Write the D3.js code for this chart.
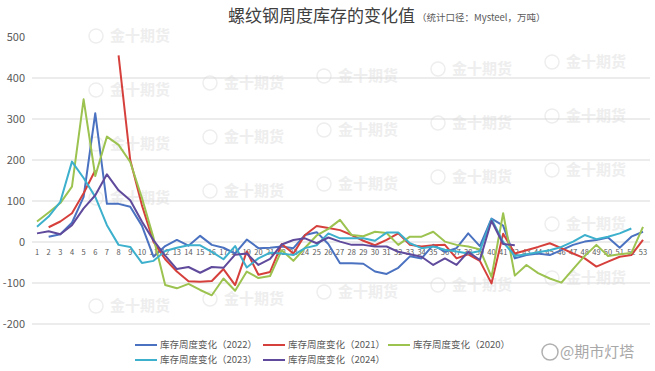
<!DOCTYPE html>
<html>
<head>
<meta charset="utf-8">
<script src="https://cdn.jsdelivr.net/npm/d3@7"></script>
<style>
  body { margin: 0; background: #fff; }
  text { font-family: "Noto Sans CJK SC", "Noto Sans", sans-serif; }
</style>
</head>
<body>
<script>
// weeks 1..53
var weeks = d3.range(1, 54);
var yTicks = [500, 400, 300, 200, 100, 0, -100, -200];

// 库存周度变化, 万吨 (null = no data)
var s2022 = [null, 13, 19, 47, 110, 314, 93, 93, 86, 40, -36, -10, 5, -9, 15, -7, -14, -28, 6, -15, -14, -11, -15, 17, 24, -5, -52, -52, -53, -72, -78, -63, -35, -40, -7, -24, -15, 21, -10, 57, 40, -40, -32, -28, -32, -20, -7, 1, 5, 11, -14, 13, 25];
var s2021 = [null, 36, 50, 70, 119, 175, null, 455, 200, 90, 0, -42, -72, -96, -97, -95, -66, -105, -23, -80, -73, -5, -28, 17, 39, 34, 29, 17, 3, -8, 5, 21, -7, -11, -8, -7, -40, -30, -46, -101, 20, -28, -20, -12, -3, -15, -28, -40, -60, -48, -36, -32, 5];
var s2020 = [50, 72, 95, 135, 348, 161, 257, 237, 195, 108, 10, -105, -113, -102, -117, -130, -89, -119, -72, -88, -83, -20, -46, -14, 16, 32, 54, 17, 14, 25, 22, -7, 13, 13, 25, 1, -7, -11, -18, -85, 70, -82, -56, -76, -89, -99, -66, -34, -7, -34, -30, -27, 37];
var s2023 = [37, 62, 98, 196, 156, 110, 41, -7, -12, -51, -46, -22, -14, -8, -8, -24, -42, -10, -62, -40, -26, -28, -32, -15, -8, 21, 9, 9, 9, 3, 23, 23, -3, -15, -11, -19, -23, -28, -22, 56, 0, -34, -30, -25, -20, -12, 1, 17, 7, 13, 21, 33, null];
var s2024 = [21, 26, 19, 41, 82, 114, 165, 126, 102, 50, 4, -33, -66, -61, -75, -61, -63, -31, -28, -56, -41, -6, 5, 9, -3, 11, 1, -7, -7, -11, -11, -24, -30, -36, -56, -40, -56, -24, -44, 52, -5, -8, null, null, null, null, null, null, null, null, null, null, null];

var seriesNames = ["库存周度变化（2022）", "库存周度变化（2021）", "库存周度变化（2020）", "库存周度变化（2023）", "库存周度变化（2024）"];
var seriesColors = ["#4a72c0", "#d6403c", "#9cc250", "#3cb0cc", "#5f4a9c"];
var seriesData = [s2022, s2021, s2020, s2023, s2024];

var width = 655, height = 371;

var svg = d3.select("body").append("svg")
    .attr("width", width)
    .attr("height", height);

// watermarks (skipped under the title and on the week label row)
var wm = svg.append("g").attr("fill", "#eeeeee");
for (var c = 0; c <= 4; c++) {
  for (var k = -3; k <= 2; k++) {
    var wx = 110 + 114 * c;
    var wy = 203 - 7 * c + 54 * k;
    if (wy < 40 || wy > 320) continue;
    if (wy > 235 && wy < 275) continue;
    wm.append("circle")
        .attr("cx", wx - 14).attr("cy", wy - 5).attr("r", 7)
        .attr("fill", "none").attr("stroke", "#eeeeee").attr("stroke-width", 1.5);
    wm.append("text")
        .attr("x", wx).attr("y", wy)
        .attr("font-size", 15).attr("font-weight", "bold")
        .text("金十期货");
  }
}

// scales
var x = d3.scalePoint().domain(weeks).range([37, 643]);
var y = d3.scaleLinear().domain([-200, 500]).range([324, 37]);

// gridlines
svg.append("g")
  .selectAll("line")
  .data(yTicks.filter(function(d) { return d < 500; }))
  .enter().append("line")
    .attr("x1", 32).attr("x2", 650)
    .attr("y1", function(d) { return y(d); })
    .attr("y2", function(d) { return y(d); })
    .attr("stroke", "#d9d9d9")
    .attr("stroke-width", 1);

// y labels
svg.append("g")
  .selectAll("text")
  .data(yTicks)
  .enter().append("text")
    .attr("x", 25)
    .attr("y", function(d) { return y(d); })
    .attr("dy", "0.35em")
    .attr("text-anchor", "end")
    .attr("font-size", 11)
    .attr("fill", "#595959")
    .text(function(d) { return d; });

// x labels next to zero line
svg.append("g")
  .selectAll("text")
  .data(weeks)
  .enter().append("text")
    .attr("x", function(d) { return x(d); })
    .attr("y", y(0) + 13)
    .attr("text-anchor", "middle")
    .attr("font-size", 7.5)
    .attr("fill", "#595959")
    .text(function(d) { return d; });

// lines
var line = d3.line()
    .defined(function(d) { return d != null; })
    .x(function(d, i) { return x(weeks[i]); })
    .y(function(d) { return y(d); });

seriesData.forEach(function(s, i) {
  svg.append("path")
      .datum(s)
      .attr("fill", "none")
      .attr("stroke", seriesColors[i])
      .attr("stroke-width", 2)
      .attr("stroke-linejoin", "round")
      .attr("d", line);
});

// title
svg.append("text")
    .attr("x", 228).attr("y", 22)
    .attr("font-size", 17)
    .attr("fill", "#404040")
    .text("螺纹钢周度库存的变化值");
svg.append("text")
    .attr("x", 417).attr("y", 21)
    .attr("font-size", 9.5)
    .attr("fill", "#595959")
    .text("（统计口径：Mysteel，万吨）");

// legend
var legendPos = [[135, 345], [263, 345], [388, 345], [135, 360], [263, 360]];
seriesNames.forEach(function(n, i) {
  var p = legendPos[i];
  svg.append("line")
      .attr("x1", p[0]).attr("x2", p[0] + 22)
      .attr("y1", p[1]).attr("y2", p[1])
      .attr("stroke", seriesColors[i])
      .attr("stroke-width", 2);
  svg.append("text")
      .attr("x", p[0] + 25).attr("y", p[1])
      .attr("dy", "0.35em")
      .attr("font-size", 9.5)
      .attr("fill", "#595959")
      .text(n);
});

// weibo mark
svg.append("circle")
    .attr("cx", 550).attr("cy", 352).attr("r", 8)
    .attr("fill", "none").attr("stroke", "#b0b0b0").attr("stroke-width", 1.5);
svg.append("text")
    .attr("x", 560).attr("y", 357)
    .attr("font-size", 15)
    .attr("fill", "#a8a8a8")
    .text("@期市灯塔");
</script>
</body>
</html>
